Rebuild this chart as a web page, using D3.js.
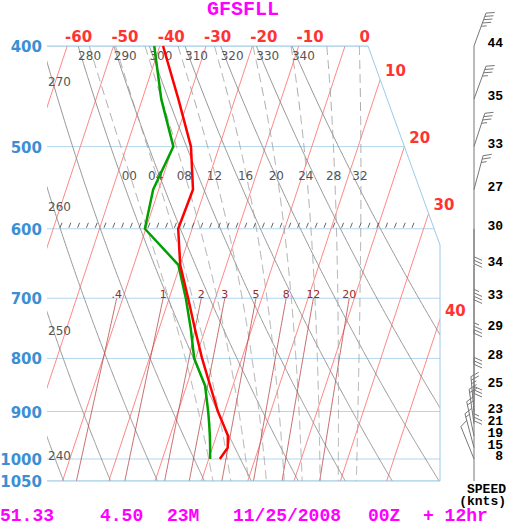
<!DOCTYPE html>
<html>
<head>
<meta charset="utf-8">
<script src="https://cdn.jsdelivr.net/npm/d3@7"></script>
<style>
body { margin:0; background:#fff; }
svg { display:block; }
</style>
</head>
<body>
<svg width="506" height="525"></svg>
<script>
// sounding levels (mb) and values
var levels   = [400, 450, 500, 550, 600, 650, 700, 750, 800, 850, 900, 925, 950, 975, 1000];
var temp     = [-39.3, -32.2, -26.1, -22.6, -23.0, -20.0, -15.9, -12.2, -8.6, -4.9, -1.4, 0.6, 2.5, 3.3, 2.4];
var dewpt    = [-41.2, -35.9, -29.9, -31.2, -30.2, -20.4, -16.4, -13.1, -10.3, -6.0, -3.5, -2.4, -1.4, -0.5, 0.3];
var windSpd  = [44, 35, 33, 27, 30, 34, 33, 29, 28, 25, 23, 21, 19, 15, 8];
var windDir  = [20, 20, 18, 15, 180, 180, 180, 180, 180, 180, 355, 352, 348, 345, 338];

// background lines
var isobars    = [400, 500, 600, 700, 800, 900, 1000, 1050];
var pLabels    = [400, 500, 600, 700, 800, 900, 1000, 1050];
var isotherms  = [-60, -50, -40, -30, -20, -10, 0, 10, 20, 30, 40];
var topTLabels = [-60, -50, -40, -30, -20, -10, 0];
var sideTLabels = [10, 20, 30, 40];
var thetas     = [240, 250, 260, 270, 280, 290, 300, 310, 320, 330, 340];
var thetaWs    = [0, 4, 8, 12, 16, 20, 24, 28, 32];
var thetaWText = ["00", "04", "08", "12", "16", "20", "24", "28", "32"];
var mixRatios  = [0.4, 1, 2, 3, 5, 8, 12, 20];
var mixText    = [".4", "1", "2", "3", "5", "8", "12", "20"];
var markLevel  = 600;

var title = "GFSFLL";
var footer = [["51.33", 0], ["4.50", 100], ["23M", 167], ["11/25/2008", 233], ["00Z", 368], ["+ 12hr", 423]];

var svg = d3.select("svg");

var yTop = 46, yBot = 481, xLeft = 47, xRight = 440;
var cornerX = 368, cornerY = 245;
var skew = 0.33;

var yScale = d3.scaleLog().domain([400, 1050]).range([yTop, yBot]);
var tScale = d3.scaleLinear().domain([-60, 40]).range([67.2, 530.2]);

function xOf(T, p){ return tScale(T) - skew*(yScale(p) - yTop); }
function rightEdge(y){
  if (y < cornerY) return cornerX + (xRight - cornerX)*(y - yTop)/(cornerY - yTop);
  return xRight;
}

// frame clip
var frame = [[xLeft, yTop], [cornerX, yTop], [xRight, cornerY], [xRight, yBot], [xLeft, yBot]];
svg.append("clipPath").attr("id", "clip")
   .append("polygon").attr("points", frame.map(function(d){ return d.join(","); }).join(" "));

var grid = svg.append("g").attr("clip-path", "url(#clip)");
var line = d3.line().x(function(d){ return d[0]; }).y(function(d){ return d[1]; });
var pSteps = d3.range(400, 1051, 2);

// isobars
grid.selectAll(".isobar").data(isobars).enter().append("line")
  .attr("x1", xLeft).attr("x2", function(p){ return rightEdge(yScale(p)); })
  .attr("y1", function(p){ return yScale(p); }).attr("y2", function(p){ return yScale(p); })
  .attr("stroke", "#b4d6ec").attr("stroke-width", 1);

// isotherms
grid.selectAll(".isotherm").data(isotherms).enter().append("line")
  .attr("x1", function(T){ return xOf(T, 400); }).attr("y1", yTop)
  .attr("x2", function(T){ return xOf(T, 1050); }).attr("y2", yBot)
  .attr("stroke", "#ff7a7a").attr("stroke-width", 0.9);

// dry adiabats
function dryT(th, p){ return th*Math.pow(p/1000, 0.2857) - 273.15; }
grid.selectAll(".dry").data(thetas).enter().append("path")
  .attr("d", function(th){ return line(pSteps.map(function(p){ return [xOf(dryT(th, p), p), yScale(p)]; })); })
  .attr("fill", "none").attr("stroke", "#8a8a8a").attr("stroke-width", 0.9);

// moist adiabats
function dTdp(T, p){
  var Rd = 287.04, Cp = 1005.7, Lv = 2.501e6, eps = 0.622;
  var es = 6.112*Math.exp(17.67*(T - 273.15)/(T - 29.65));
  var rs = eps*es/(p - es);
  return (Rd*T + Lv*rs)/(p*(Cp + Lv*Lv*rs*eps/(Rd*T*T)));
}
function moistLine(thw){
  var pts = [];
  var T = thw + 273.15, p;
  for (p = 1000; p <= 1050; p += 1){
    if (p > 1000) { T += dTdp(T, p - 0.5); }
    pts.push([p, T - 273.15]);
  }
  T = thw + 273.15;
  for (p = 1000; p > 400; p -= 1){
    var k1 = dTdp(T, p), k2 = dTdp(T - k1, p - 1);
    T -= 0.5*(k1 + k2);
    pts.push([p - 1, T - 273.15]);
  }
  pts.sort(function(a, b){ return a[0] - b[0]; });
  return pts;
}
var moist = thetaWs.map(moistLine);
grid.selectAll(".moist").data(moist).enter().append("path")
  .attr("d", function(pts){ return line(pts.map(function(d){ return [xOf(d[1], d[0]), yScale(d[0])]; })); })
  .attr("fill", "none").attr("stroke", "#a0a0a0").attr("stroke-width", 0.9)
  .attr("stroke-dasharray", "9,5");

// mixing ratio lines
function mixTd(w, p){
  var e = (w/1000)*p/(0.622 + w/1000);
  var l = Math.log(e/6.112);
  return 243.5*l/(17.67 - l);
}
var mixSteps = d3.range(700, 1051, 5);
grid.selectAll(".mix").data(mixRatios).enter().append("path")
  .attr("d", function(w){ return line(mixSteps.map(function(p){ return [xOf(mixTd(w, p), p), yScale(p)]; })); })
  .attr("fill", "none").attr("stroke", "#b84848").attr("stroke-width", 0.8);

// marker row at 600 mb
var markY = yScale(markLevel);
grid.selectAll(".mark").data(d3.range(60, 420, 8.8)).enter().append("line")
  .attr("x1", function(d){ return d; }).attr("y1", markY - 1)
  .attr("x2", function(d){ return d + 2; }).attr("y2", markY - 6)
  .attr("stroke", "#555").attr("stroke-width", 0.9);

// frame border
svg.append("path")
  .attr("d", line([[xLeft, yTop], [cornerX, yTop], [xRight, cornerY], [xRight, yBot], [xLeft, yBot]]))
  .attr("fill", "none").attr("stroke", "#9ccbe8").attr("stroke-width", 1);

// theta labels
var thetaG = svg.append("g").attr("font-family", "DejaVu Sans, sans-serif").attr("font-size", 12).attr("fill", "#555");
thetas.forEach(function(th){
  var x0 = xOf(dryT(th, 400), 400);
  if (x0 >= xLeft) {
    thetaG.append("text").attr("x", x0).attr("y", 60).text(th);
  } else {
    var yEntry = yBot;
    for (var p = 400; p <= 1050; p += 1){
      if (xOf(dryT(th, p), p) >= xLeft) { yEntry = yScale(p); break; }
    }
    thetaG.append("text").attr("x", xLeft + 1).attr("y", yEntry + 23).text(th);
  }
});

// moist adiabat labels
var mlY = 180, mlP = yScale.invert(176);
moist.forEach(function(pts, i){
  var near = pts.reduce(function(a, b){ return Math.abs(b[0] - mlP) < Math.abs(a[0] - mlP) ? b : a; });
  thetaG.append("text").attr("x", xOf(near[1], near[0]) - 1).attr("y", mlY)
    .attr("text-anchor", "middle").text(thetaWText[i]);
});

// mixing ratio labels
svg.append("g").selectAll("text").data(mixRatios).enter().append("text")
  .attr("x", function(w){ return xOf(mixTd(w, 700), 700); })
  .attr("y", yScale(700))
  .attr("text-anchor", "middle")
  .attr("font-family", "DejaVu Sans, sans-serif").attr("font-size", 11).attr("fill", "#a02828")
  .text(function(w, i){ return mixText[i]; });

// temperature labels
var tLab = svg.append("g").attr("font-family", "DejaVu Sans, sans-serif").attr("font-weight", "bold")
  .attr("font-size", 15).attr("fill", "#ff3333");
tLab.selectAll(".tt").data(topTLabels).enter().append("text")
  .attr("x", function(T){ return tScale(T) + 25; }).attr("y", 42)
  .attr("text-anchor", "end")
  .text(function(T){ return T; });
sideTLabels.forEach(function(T){
  var yy = yTop, xx = 0;
  for (var y = yTop; y <= yBot; y += 0.5){
    var p = yScale.invert(y);
    if (xOf(T, p) <= rightEdge(y)) { yy = y; xx = xOf(T, p); break; }
  }
  tLab.append("text").attr("x", xx + 5).attr("y", yy - 4).text(T);
});

// pressure labels
svg.append("g").selectAll("text").data(pLabels).enter().append("text")
  .attr("x", 42).attr("y", function(p){ return yScale(p) + 6; })
  .attr("text-anchor", "end")
  .attr("font-family", "DejaVu Sans, sans-serif").attr("font-weight", "bold")
  .attr("font-size", 15).attr("fill", "#3b8fd4")
  .text(function(p){ return p; });

// profiles
var prof = d3.line()
  .x(function(d, i){ return xOf(d, levels[i]); })
  .y(function(d, i){ return yScale(levels[i]); });
svg.append("path").attr("d", prof(dewpt)).attr("fill", "none")
  .attr("stroke", "#00a000").attr("stroke-width", 2.5).attr("stroke-linejoin", "round");
svg.append("path").attr("d", prof(temp)).attr("fill", "none")
  .attr("stroke", "#ff0000").attr("stroke-width", 2.5).attr("stroke-linejoin", "round");

// wind barbs
var bx = 474, staffLen = 35;
var wind = svg.append("g").attr("stroke", "#777").attr("stroke-width", 1).attr("fill", "none");
wind.append("line").attr("x1", bx).attr("x2", bx).attr("y1", yTop).attr("y2", yBot);
levels.forEach(function(p, i){
  var a = windDir[i]*Math.PI/180;
  var ux = Math.sin(a), uy = -Math.cos(a);
  var px = -uy, py = ux;
  if (px < 0) { px = -px; py = -py; }
  var y0 = yScale(p);
  var tx = bx + ux*staffLen, ty = y0 + uy*staffLen;
  wind.append("line").attr("x1", bx).attr("y1", y0).attr("x2", tx).attr("y2", ty);
  var s = Math.round(windSpd[i]/5)*5;
  var full = Math.floor(s/10), half = (s % 10) ? 1 : 0;
  for (var k = 0; k < full + half; k++){
    var len = k < full ? 8 : 5;
    var sx = tx - ux*k*3.5, sy = ty - uy*k*3.5;
    wind.append("line").attr("x1", sx).attr("y1", sy)
      .attr("x2", sx + px*len + ux*len*0.45).attr("y2", sy + py*len + uy*len*0.45);
  }
});

// wind speed text
svg.append("g").selectAll("text").data(windSpd).enter().append("text")
  .attr("x", 503).attr("y", function(d, i){ return yScale(levels[i]) + 1; })
  .attr("text-anchor", "end")
  .attr("font-family", "Liberation Mono, monospace").attr("font-weight", "bold")
  .attr("font-size", 13).attr("fill", "#000")
  .text(function(d){ return d; });

var sp = svg.append("g").attr("font-family", "Liberation Mono, monospace").attr("font-weight", "bold")
  .attr("font-size", 13).attr("fill", "#000").attr("text-anchor", "end");
sp.append("text").attr("x", 506).attr("y", 493).text("SPEED");
sp.append("text").attr("x", 506).attr("y", 505).text("(knts)");

// title and footer
svg.append("text").attr("x", 243).attr("y", 15).attr("text-anchor", "middle")
  .attr("font-family", "Liberation Mono, monospace").attr("font-weight", "bold")
  .attr("font-size", 20).attr("fill", "#ff00ff").text(title);
svg.append("g").selectAll("text").data(footer).enter().append("text")
  .attr("x", function(d){ return d[1]; }).attr("y", 521)
  .attr("font-family", "Liberation Mono, monospace").attr("font-weight", "bold")
  .attr("font-size", 18).attr("fill", "#ff00ff")
  .text(function(d){ return d[0]; });
</script>
</body>
</html>
